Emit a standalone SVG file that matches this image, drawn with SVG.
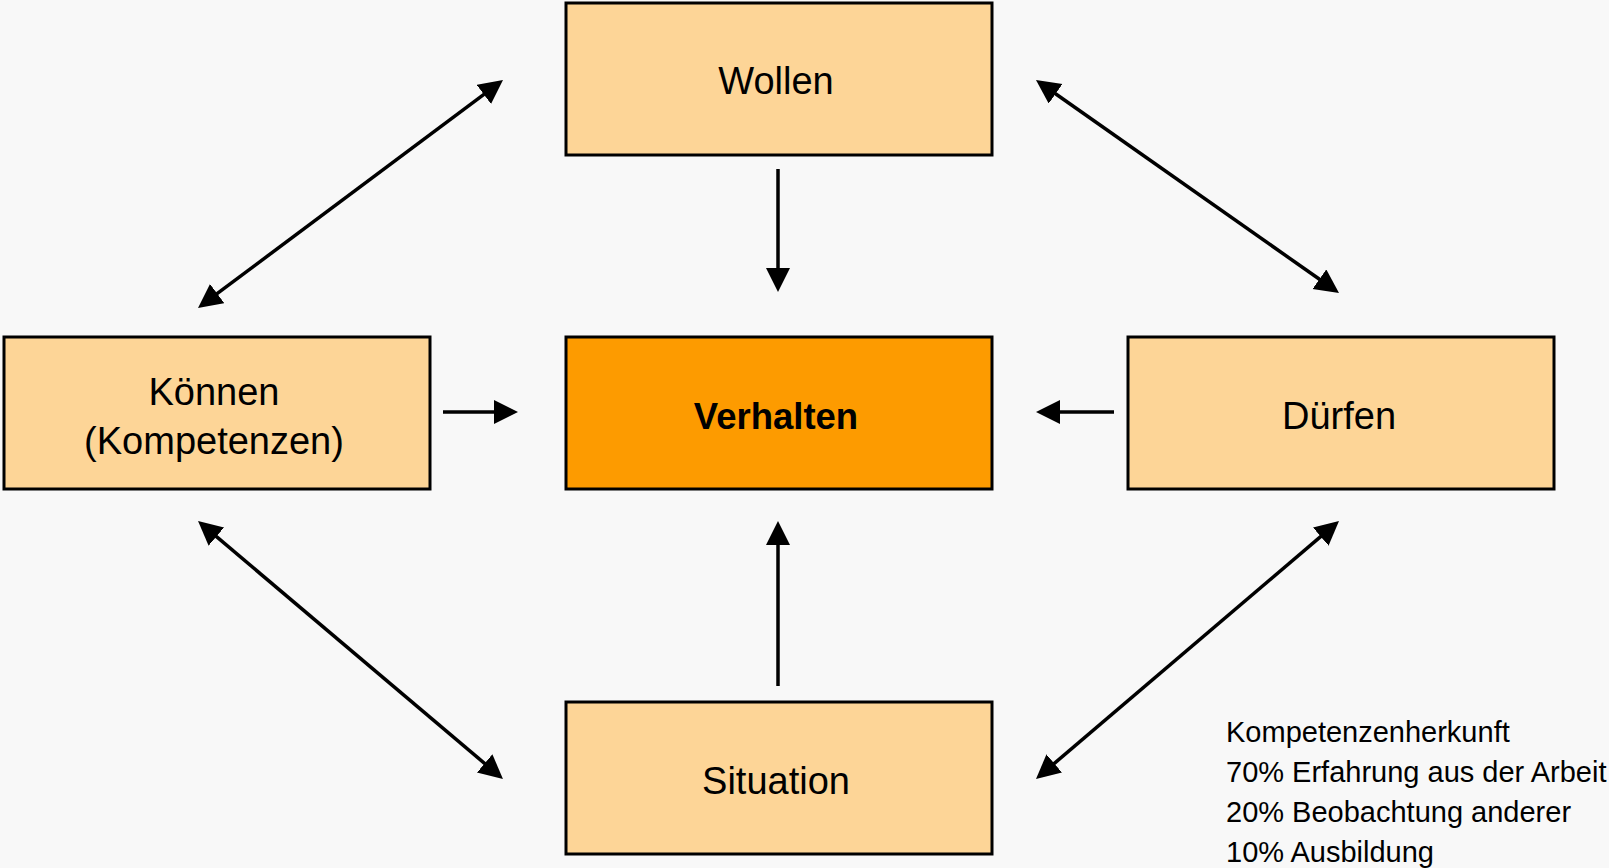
<svg xmlns="http://www.w3.org/2000/svg" width="1609" height="868" viewBox="0 0 1609 868">
<style>
.box{fill:#fdd597;stroke:#000;stroke-width:3}
.core{fill:#fd9b00;stroke:#000;stroke-width:3}
.lbl{font-family:"Liberation Sans",Arial,sans-serif;font-size:38px;fill:#000;text-anchor:middle}
.b{font-weight:bold;font-size:36.5px}
.leg{font-family:"Liberation Sans",Arial,sans-serif;font-size:29px;fill:#000}
.c line{stroke:#000;stroke-width:3.5;fill:none}
</style>
<defs>
<marker id="ah" markerUnits="userSpaceOnUse" markerWidth="26" markerHeight="26" refX="1" refY="12" orient="auto-start-reverse">
<path d="M0,0 L24,12 L0,24 z" fill="#000"/>
</marker>
</defs>
<rect width="1609" height="868" fill="#f8f8f8"/>
<g class="c" id="connectors">
<line x1="778" y1="169" x2="778" y2="269" marker-end="url(#ah)"/>
<line x1="778" y1="686" x2="778" y2="544" marker-end="url(#ah)"/>
<line x1="443" y1="412" x2="495" y2="412" marker-end="url(#ah)"/>
<line x1="1114" y1="412" x2="1059" y2="412" marker-end="url(#ah)"/>
<line x1="216.4" y1="294.2" x2="484.6" y2="93.8" marker-start="url(#ah)" marker-end="url(#ah)"/>
<line x1="1054.8" y1="93.2" x2="1320.2" y2="279.8" marker-start="url(#ah)" marker-end="url(#ah)"/>
<line x1="215.6" y1="535.9" x2="485.4" y2="764.1" marker-start="url(#ah)" marker-end="url(#ah)"/>
<line x1="1321.5" y1="535.9" x2="1053.5" y2="764.1" marker-start="url(#ah)" marker-end="url(#ah)"/>
</g>
<g id="wollen"><rect class="box" x="566" y="3" width="426" height="152"/><text class="lbl" x="776" y="94">Wollen</text></g>
<g id="koennen"><rect class="box" x="4" y="337" width="426" height="152"/><text class="lbl" x="214" y="405">Können</text><text class="lbl" x="214" y="454">(Kompetenzen)</text></g>
<g id="verhalten"><rect class="core" x="566" y="337" width="426" height="152"/><text class="lbl b" x="776" y="429">Verhalten</text></g>
<g id="duerfen"><rect class="box" x="1128" y="337" width="426" height="152"/><text class="lbl" x="1339" y="429">Dürfen</text></g>
<g id="situation"><rect class="box" x="566" y="702" width="426" height="152"/><text class="lbl" x="776" y="794">Situation</text></g>
<g id="legend">
<text class="leg" x="1226" y="742">Kompetenzenherkunft</text>
<text class="leg" x="1226" y="782">70% Erfahrung aus der Arbeit</text>
<text class="leg" x="1226" y="822">20% Beobachtung anderer</text>
<text class="leg" x="1226" y="862">10% Ausbildung</text>
</g>
</svg>
